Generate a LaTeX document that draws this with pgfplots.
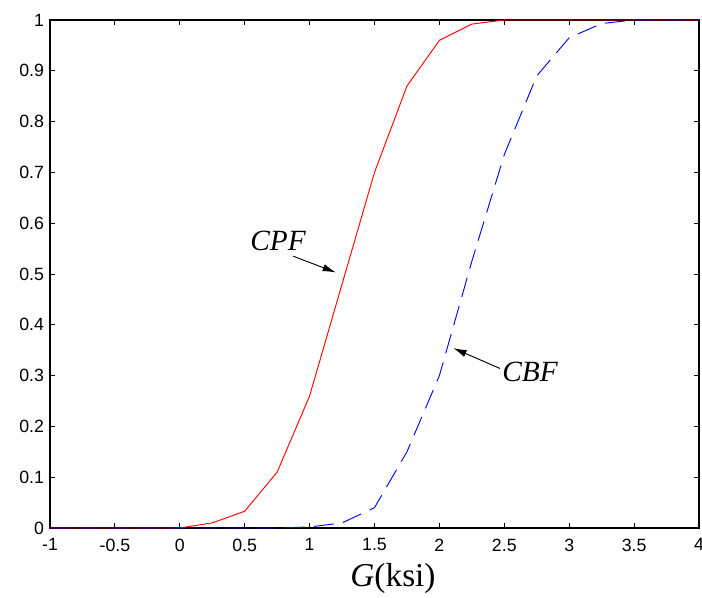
\documentclass[border=0pt]{standalone}
\usepackage{fontspec}
\setmainfont{Liberation Serif}
\newfontfamily\ticksfont{Liberation Sans}
\usepackage{pgfplots}
\pgfplotsset{compat=1.18}
\usetikzlibrary{arrows.meta}

\begin{document}
\begin{tikzpicture}
\useasboundingbox (-37.5pt,-52.5pt) rectangle (489pt,396pt);
\begin{axis}[
  at={(0,0)}, anchor=south west,
  scale only axis, width=486.75pt, height=381pt,
  xmin=-1, xmax=4, ymin=0, ymax=1,
  xtick={-1,-0.5,0,0.5,1,1.5,2,2.5,3,3.5,4},
  xticklabels={-1,-0.5,0,0.5,1,1.5,2,2.5,3,3.5,4},
  ytick={0,0.1,0.2,0.3,0.4,0.5,0.6,0.7,0.8,0.9,1},
  yticklabels={0,0.1,0.2,0.3,0.4,0.5,0.6,0.7,0.8,0.9,1},
  tick align=inside, major tick length=3.75pt,
  ticklabel style={font=\ticksfont\fontsize{13.3}{16}\selectfont},
  xticklabel style={yshift=-4.5pt},
  yticklabel style={xshift=-1pt},
  axis line style={line width=0.8pt},
  every tick/.style={black, line width=0.6pt},
  xlabel={\textit{G}(ksi)},
  xlabel style={at={(rel axis cs:0.5285,0)}, anchor=base, yshift=-44.25pt, font=\fontsize{25}{30}\selectfont},
  clip=false,
]
\addplot[red, line width=0.7pt] coordinates {
(-1,0) (-0.75,0) (-0.5,0) (-0.25,0) (0,0) (0.25,0.01) (0.5,0.033) (0.75,0.11)
(1,0.26) (1.25,0.48) (1.5,0.70) (1.75,0.87) (2,0.96) (2.25,0.992) (2.5,1)
(2.75,1) (3,1) (3.25,1) (3.5,1) (3.75,1) (4,1)};
\addplot[blue, line width=0.7pt, dash pattern=on 15pt off 7pt] coordinates {
(-1,0) (-0.75,0) (-0.5,0) (-0.25,0) (0,0) (0.25,0) (0.5,0) (0.75,0)
(1,0.002) (1.25,0.01) (1.5,0.04) (1.75,0.15) (2,0.30) (2.25,0.525) (2.5,0.735)
(2.75,0.89) (3,0.965) (3.25,0.993) (3.5,1) (3.75,1) (4,1)};
\node[font=\itshape\fontsize{22}{26}\selectfont] at (axis cs:0.757,0.565) {CPF};
\node[font=\itshape\fontsize{22}{26}\selectfont] at (axis cs:2.698,0.308) {CBF};
\draw[-{Latex[length=10pt,width=5.5pt]}, line width=0.7pt] (axis cs:0.874,0.535) -- (axis cs:1.203,0.503);
\draw[-{Latex[length=10pt,width=5.5pt]}, line width=0.7pt] (axis cs:2.467,0.314) -- (axis cs:2.107,0.354);
\end{axis}
\end{tikzpicture}
\end{document}
